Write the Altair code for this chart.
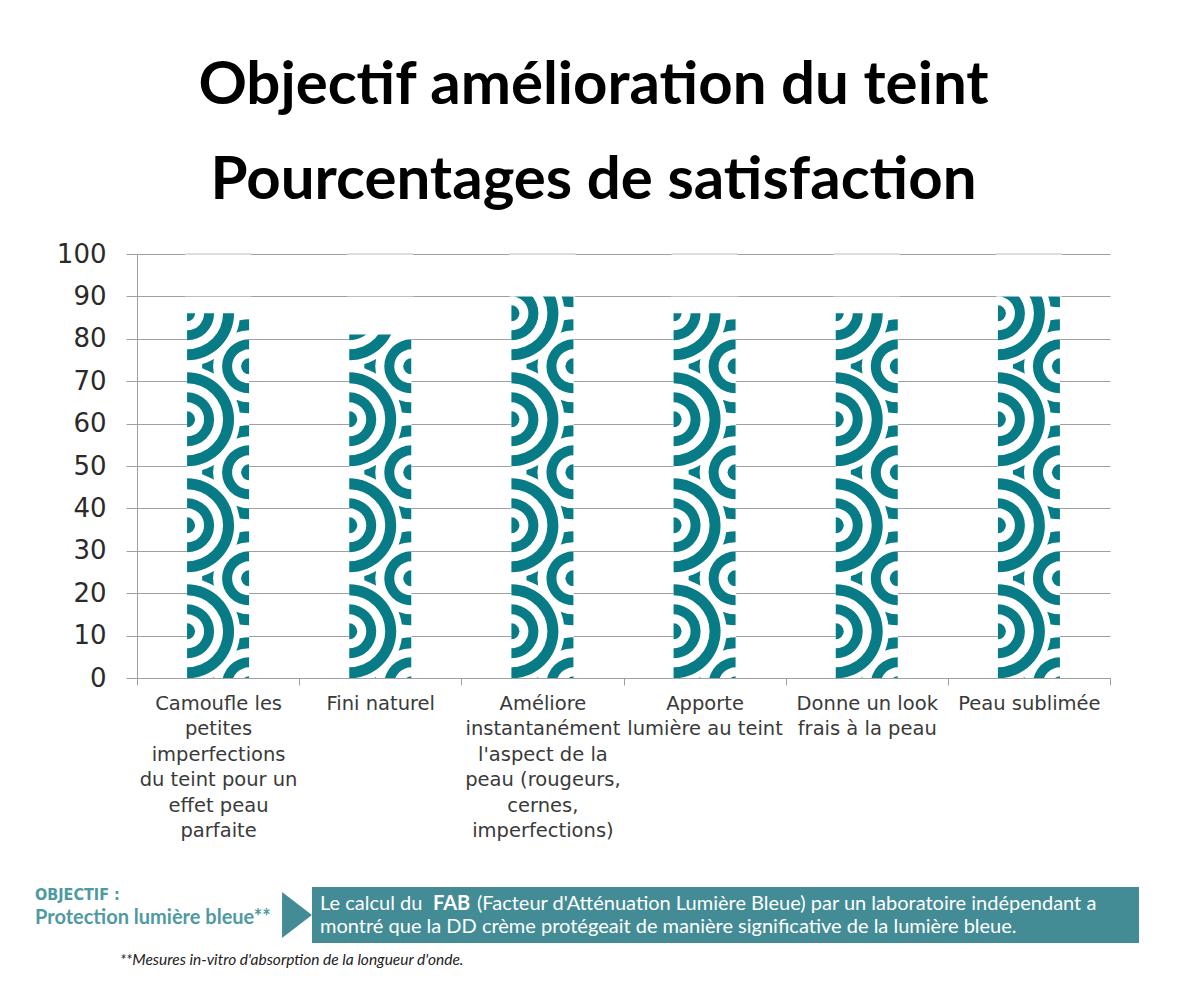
import altair as alt
import pandas as pd

# --- chart data -------------------------------------------------------------
categories = [
    "Camoufle les\npetites\nimperfections\ndu teint pour un\neffet peau\nparfaite",
    "Fini naturel",
    "Améliore\ninstantanément\nl'aspect de la\npeau (rougeurs,\ncernes,\nimperfections)",
    "Apporte\nlumière au teint",
    "Donne un look\nfrais à la peau",
    "Peau sublimée",
]
satisfaction = [86, 81, 90, 86, 86, 90]
y_ticks = [0, 10, 20, 30, 40, 50, 60, 70, 80, 90, 100]

title_lines = ["Objectif amélioration du teint", "Pourcentages de satisfaction"]
objectif_label = "OBJECTIF :"
objectif_text = "Protection lumière bleue**"
box_line1 = ["Le calcul du ", "FAB", "(Facteur d'Atténuation Lumière Bleue) par un laboratoire indépendant a"]
box_line2 = "montré que la DD crème protégeait de manière significative de la lumière bleue."
footnote = "**Mesures in-vitro d'absorption de la longueur d'onde."

TEAL = "#087c86"
BOX = "#438c96"
GRID = "#a0a0a0"
W, H = 973, 424
BAR_W = 62

df = pd.DataFrame({"cat": categories, "value": satisfaction})

# decorative wave pattern inside each bar (period of 25 units, left/right scales)
rings = [(0, 53, "white"), (36, 47, TEAL), (17, 27, TEAL), (0, 8, TEAL)]
left_rows, right_rows = [], []
for cat, v in zip(categories, satisfaction):
    for k in range(-1, 6):
        for yc, rows, t0 in ((11 + 25 * k, left_rows, 0.0), (-1.5 + 25 * k, right_rows, 3.14159)):
            if yc - 12.5 < v and yc + 12.5 > 0:
                for r1, r2, col in rings:
                    rows.append({"cat": cat, "yc": yc, "r1": r1, "r2": r2,
                                 "t0": t0, "t1": t0 + 3.14159, "fill": col})
left_df = pd.DataFrame(left_rows)
right_df = pd.DataFrame(right_rows)

grid_df = pd.DataFrame([{"cat": c, "t": t} for c, v in zip(categories, satisfaction)
                        for t in y_ticks if t > v])

x_enc = alt.X("cat:N", sort=categories, title=None,
              scale=alt.Scale(paddingInner=0, paddingOuter=0),
              axis=alt.Axis(labelAngle=0, labelExpr="split(datum.label, '\\n')",
                            labelFont="DejaVu Sans", labelFontSize=19.5, labelColor="#3a3a3a",
                            labelLineHeight=25.5, labelPadding=9, labelLimit=300,
                            labelOverlap=False, labelBaseline="top",
                            tickBand="extent", tickSize=7, tickColor=GRID,
                            domainColor=GRID, grid=False))
y_scale = alt.Scale(domain=[0, 100])

bars = alt.Chart(df).mark_bar(color="white", width=BAR_W).encode(
    x=x_enc,
    y=alt.Y("value:Q", scale=y_scale, title=None,
            axis=alt.Axis(values=y_ticks, labelFont="DejaVu Sans", labelFontSize=26,
                          labelColor="#2a2a2a", labelPadding=20, tickSize=11,
                          tickColor=GRID, domainColor=GRID, gridColor=GRID)),
)


def pattern(data, offset):
    return alt.Chart(data).mark_arc(clip=True, xOffset=offset).encode(
        x=alt.X("cat:N", sort=categories),
        y=alt.Y("yc:Q", scale=y_scale, stack=None),
        radius=alt.Radius("r2:Q", scale=None),
        radius2=alt.Radius2("r1:Q"),
        theta=alt.Theta("t0:Q", scale=None, stack=None),
        theta2=alt.Theta2("t1:Q"),
        color=alt.Color("fill:N", scale=None),
    )


cover = alt.Chart(df).mark_bar(color="white", width=BAR_W + 4).encode(
    x=alt.X("cat:N", sort=categories), y="value:Q", y2=alt.datum(100))
grid_top = alt.Chart(grid_df).mark_tick(color=GRID, size=BAR_W + 4, thickness=1).encode(
    x=alt.X("cat:N", sort=categories), y=alt.Y("t:Q", scale=y_scale))

# --- annotation panel below the chart --------------------------------------
def text(s, x, y, **kw):
    return alt.Chart(pd.DataFrame({"s": [s]})).mark_text(align="left", baseline="alphabetic", **kw).encode(
        x=alt.value(x), y=alt.value(y), text="s:N")


box = alt.Chart(pd.DataFrame({"s": [box_line2]})).mark_rect(color=BOX).encode(
    x=alt.value(175), x2=alt.value(1002), y=alt.value(633), y2=alt.value(689))
arrow = alt.Chart(pd.DataFrame({"s": [objectif_text]})).mark_point(
    shape="M-0.65,-1L0.65,0L-0.65,1Z", filled=True, color=BOX, size=2116, opacity=1).encode(
    x=alt.value(160), y=alt.value(661))

notes = [
    box, arrow,
    text(objectif_label, -102, 646, font="DejaVu Sans Condensed", fontSize=16, fontWeight="bold", color="#4f9aa1"),
    text(objectif_text, -102, 670, font="Lato", fontSize=20, fontWeight="bold", color="#4f9aa1"),
    text(box_line1[0], 183, 656, font="Lato", fontSize=20, color="white"),
    text(box_line1[1], 296, 656, font="Lato", fontSize=20, fontWeight="bold", color="white"),
    text(box_line1[2], 340, 656, font="Lato", fontSize=20, color="white"),
    text(box_line2, 183, 679, font="Lato", fontSize=20, color="white"),
    text(footnote, -17, 711, font="Lato", fontSize=15.5, fontStyle="italic", color="#222222"),
]

chart = alt.layer(bars, pattern(right_df, BAR_W / 2), pattern(left_df, -BAR_W / 2),
                  cover, grid_top, *notes).properties(
    width=W, height=H,
    autosize=alt.AutoSizeParams(type="none"),
    padding={"left": 129, "top": 246, "right": 59, "bottom": 314},
    title=alt.TitleParams(title_lines, font="Lato", fontSize=60, fontWeight="bold",
                          color="black", anchor="middle", lineHeight=95,
                          baseline="bottom", offset=-31, dx=-30),
).configure_view(stroke=None)

chart.save("out.html", embed_options={"renderer": "svg", "actions": False})
